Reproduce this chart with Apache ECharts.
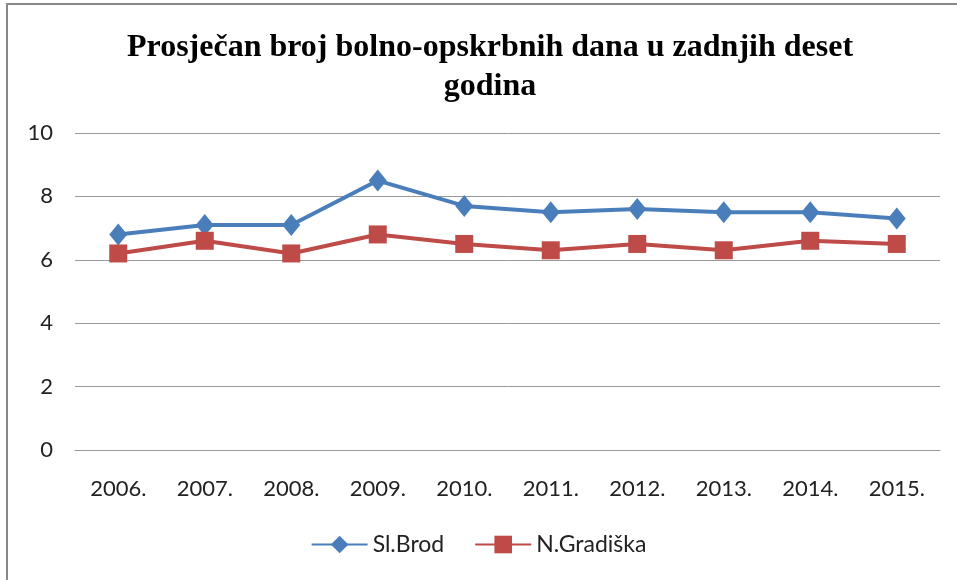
<!DOCTYPE html>
<html>
<head>
<meta charset="utf-8">
<script src="https://cdn.jsdelivr.net/npm/echarts@6/dist/echarts.min.js"></script>
<style>
  html, body { margin: 0; padding: 0; background: #fff; }
  #chart { width: 957px; height: 580px; }
  #frame { position: absolute; left: 6px; top: 3px; width: 960px; height: 590px;
           border-left: 2px solid #888; border-top: 2px solid #888; pointer-events: none; }
</style>
</head>
<body>
<div id="chart"></div>
<div id="frame"></div>
<script>
const years = ['2006.', '2007.', '2008.', '2009.', '2010.', '2011.', '2012.', '2013.', '2014.', '2015.'];
const slBrod = [6.8, 7.1, 7.1, 8.5, 7.7, 7.5, 7.6, 7.5, 7.5, 7.3];
const nGradiska = [6.2, 6.6, 6.2, 6.8, 6.5, 6.3, 6.5, 6.3, 6.6, 6.5];

const chart = echarts.init(document.getElementById('chart'));

const labelFont = 'Lato, "Open Sans", sans-serif';

chart.setOption({
  animation: false,
  title: {
    text: 'Prosječan broj bolno-opskrbnih dana u zadnjih deset\ngodina',
    left: 485,
    top: 23,
    textAlign: 'center',
    textStyle: {
      fontFamily: '"Liberation Serif", serif',
      fontWeight: 'bold',
      fontSize: 32,
      lineHeight: 39,
      color: '#000'
    }
  },
  legend: {
    bottom: 19,
    left: 'center',
    itemWidth: 56,
    itemHeight: 22,
    itemGap: 30,
    textStyle: { fontFamily: labelFont, fontSize: 23, color: '#222' },
    data: ['Sl.Brod', 'N.Gradiška']
  },
  grid: { left: 75, right: 17, top: 133, bottom: 130 },
  xAxis: {
    type: 'category',
    data: years,
    boundaryGap: true,
    axisLine: { lineStyle: { color: '#999', width: 1 } },
    axisTick: { show: false },
    axisLabel: { fontFamily: labelFont, fontSize: 22, color: '#222', margin: 28 }
  },
  yAxis: {
    type: 'value',
    min: 0,
    max: 10,
    interval: 2,
    axisLine: { show: false },
    axisTick: { show: false },
    axisLabel: { fontFamily: labelFont, fontSize: 22, color: '#222', margin: 22 },
    splitLine: { lineStyle: { color: '#999', width: 1 } }
  },
  series: [
    {
      name: 'Sl.Brod',
      type: 'line',
      data: slBrod,
      symbol: 'diamond',
      symbolSize: [18, 22],
      lineStyle: { color: '#4A7EBB', width: 4 },
      itemStyle: { color: '#4A7EBB' }
    },
    {
      name: 'N.Gradiška',
      type: 'line',
      data: nGradiska,
      symbol: 'rect',
      symbolSize: 18,
      lineStyle: { color: '#BE4B48', width: 4 },
      itemStyle: { color: '#BE4B48' }
    }
  ]
});
</script>
</body>
</html>
